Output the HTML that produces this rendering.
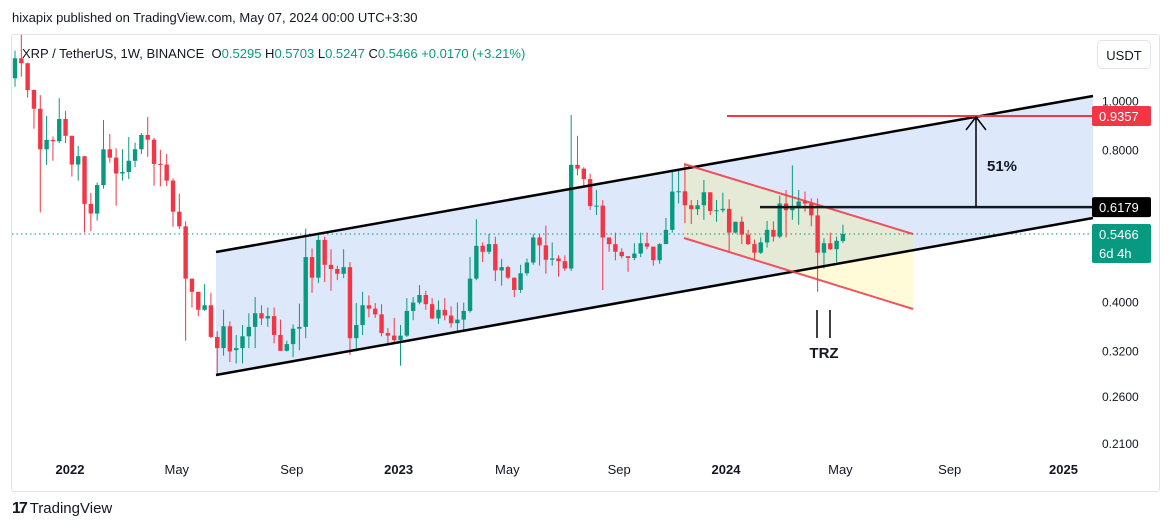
<!DOCTYPE html>
<html><head><meta charset="utf-8"><style>
body{margin:0;background:#fff;font-family:"Liberation Sans",sans-serif;width:1172px;height:531px;overflow:hidden;position:relative}
.t{position:absolute;white-space:nowrap}
</style></head><body>
<div class="t" style="left:12px;top:10px;font-size:13px;color:#131722">hixapix published on TradingView.com, May 07, 2024 00:00 UTC+3:30</div>
<div style="position:absolute;left:11px;top:34px;width:1147px;height:456px;border:1px solid #e0e3eb;border-radius:3px"></div>
<div class="t" style="left:22px;top:46px;font-size:13px;color:#131722">XRP / TetherUS, 1W, BINANCE&nbsp; <span style="color:#131722">O</span><span style="color:#089981">0.5295</span> <span>H</span><span style="color:#089981">0.5703</span> <span>L</span><span style="color:#089981">0.5247</span> <span>C</span><span style="color:#089981">0.5466 +0.0170 (+3.21%)</span></div>
<div class="t" style="left:1097px;top:40px;width:54px;height:29px;border:1px solid #e0e3eb;border-radius:5px;font-size:13px;color:#131722;text-align:center;line-height:29px;box-sizing:border-box">USDT</div>
<svg id="c" width="1172" height="531" style="position:absolute;left:0;top:0"></svg>
<div class="t" style="left:12px;top:500px;font-size:15px;color:#131722"><b style="font-size:16px;letter-spacing:-2px">17</b> TradingView</div>
<script>
const opens=[1.111,1.217,1.190,1.053,0.967,0.804,0.839,0.834,0.923,0.855,0.750,0.779,0.627,0.600,0.683,0.804,0.774,0.720,0.725,0.763,0.804,0.858,0.840,0.752,0.750,0.697,0.605,0.566,0.446,0.420,0.387,0.395,0.342,0.325,0.359,0.322,0.325,0.343,0.358,0.381,0.372,0.376,0.345,0.321,0.331,0.355,0.358,0.492,0.448,0.532,0.475,0.466,0.456,0.470,0.340,0.361,0.395,0.389,0.379,0.348,0.344,0.337,0.344,0.385,0.400,0.414,0.397,0.372,0.387,0.377,0.364,0.370,0.385,0.446,0.518,0.504,0.522,0.463,0.470,0.448,0.4235,0.457,0.480,0.538,0.519,0.486,0.489,0.483,0.467,0.749,0.736,0.702,0.621,0.622,0.538,0.522,0.504,0.494,0.490,0.500,0.524,0.516,0.485,0.522,0.557,0.663,0.664,0.623,0.612,0.623,0.661,0.607,0.609,0.613,0.550,0.578,0.545,0.522,0.502,0.526,0.557,0.540,0.628,0.609,0.619,0.634,0.628,0.595,0.502,0.524,0.510,0.5295];
const highs=[1.260,1.353,1.193,1.056,1.029,0.936,0.852,1.015,0.958,0.855,0.816,0.779,0.659,0.691,0.919,0.862,0.808,0.804,0.850,0.829,0.866,0.932,0.847,0.802,0.787,0.704,0.657,0.579,0.446,0.420,0.435,0.418,0.351,0.387,0.367,0.345,0.361,0.381,0.410,0.395,0.391,0.391,0.370,0.336,0.362,0.398,0.560,0.512,0.548,0.540,0.510,0.473,0.510,0.481,0.399,0.420,0.413,0.399,0.397,0.356,0.373,0.361,0.408,0.410,0.433,0.422,0.408,0.404,0.408,0.393,0.400,0.400,0.492,0.585,0.526,0.547,0.540,0.488,0.473,0.448,0.475,0.489,0.547,0.547,0.568,0.526,0.496,0.496,0.940,0.855,0.741,0.719,0.668,0.638,0.538,0.550,0.512,0.494,0.524,0.550,0.550,0.516,0.524,0.588,0.729,0.729,0.752,0.638,0.638,0.699,0.661,0.638,0.660,0.640,0.578,0.592,0.557,0.533,0.538,0.580,0.579,0.651,0.668,0.747,0.668,0.663,0.643,0.643,0.536,0.550,0.540,0.5703];
const lows=[1.069,1.119,1.017,0.883,0.603,0.749,0.763,0.827,0.827,0.710,0.697,0.550,0.554,0.581,0.672,0.757,0.622,0.697,0.702,0.741,0.787,0.777,0.681,0.679,0.680,0.565,0.559,0.336,0.391,0.376,0.385,0.340,0.288,0.314,0.305,0.303,0.303,0.325,0.325,0.361,0.358,0.332,0.321,0.320,0.312,0.322,0.340,0.418,0.437,0.439,0.422,0.443,0.447,0.315,0.320,0.345,0.374,0.373,0.343,0.333,0.333,0.300,0.342,0.369,0.397,0.387,0.371,0.363,0.369,0.357,0.348,0.353,0.382,0.443,0.481,0.499,0.441,0.432,0.445,0.410,0.418,0.452,0.475,0.473,0.456,0.473,0.450,0.462,0.462,0.714,0.675,0.610,0.596,0.4235,0.504,0.485,0.489,0.460,0.485,0.492,0.510,0.473,0.477,0.522,0.550,0.628,0.574,0.572,0.596,0.583,0.596,0.578,0.603,0.504,0.548,0.522,0.520,0.485,0.499,0.514,0.528,0.536,0.538,0.583,0.570,0.605,0.566,0.420,0.467,0.508,0.481,0.5247];
const closes=[1.217,1.190,1.053,0.967,0.804,0.839,0.834,0.923,0.855,0.750,0.779,0.627,0.600,0.683,0.804,0.774,0.720,0.725,0.763,0.804,0.858,0.840,0.752,0.750,0.697,0.605,0.566,0.446,0.420,0.387,0.395,0.342,0.325,0.359,0.320,0.325,0.343,0.358,0.381,0.372,0.376,0.345,0.321,0.331,0.355,0.358,0.492,0.448,0.532,0.475,0.466,0.456,0.470,0.340,0.361,0.395,0.389,0.379,0.348,0.344,0.337,0.344,0.385,0.400,0.414,0.397,0.372,0.387,0.377,0.364,0.370,0.385,0.446,0.518,0.504,0.522,0.463,0.470,0.448,0.4235,0.457,0.480,0.538,0.519,0.486,0.489,0.483,0.467,0.749,0.736,0.702,0.621,0.622,0.538,0.522,0.504,0.494,0.490,0.500,0.524,0.516,0.485,0.522,0.557,0.663,0.664,0.623,0.612,0.623,0.661,0.607,0.609,0.613,0.550,0.578,0.545,0.522,0.502,0.526,0.557,0.540,0.628,0.609,0.619,0.634,0.628,0.595,0.502,0.524,0.510,0.530,0.5466];
const priceTicks=[1.0,0.8,0.4,0.32,0.26,0.21];
const timeLabels=["2022","May","Sep","2023","May","Sep","2024","May","Sep","2025"];
const timeWeeks=[8.7,25.6,43.8,60.7,77.9,95.6,112.5,130.6,147.9,165.9];
const boldLabels=["2022","2023","2024","2025"];

const svg=document.getElementById('c');
const NS='http://www.w3.org/2000/svg';
const y=p=>101.4-219.5*Math.log(p);
const x=i=>15+i*6.32;
function mk(tag,attrs,parent){const e=document.createElementNS(NS,tag);for(const k in attrs)e.setAttribute(k,attrs[k]);(parent||svg).appendChild(e);return e;}

// ascending channel
const ch=mk('polygon',{points:'216,252 1093,96 1093,218 216,375',fill:'#dde9fa'});


// descending channel fill
const dc=mk('polygon',{points:'684,164 913,234 913,309 684,238',fill:'rgba(255,235,80,0.22)'});



// last price dotted line
const pl=mk('line',{x1:12,x2:1093,y1:y(closes[closes.length-1]),y2:y(closes[closes.length-1]),stroke:'#089981','stroke-dasharray':'1.5 3','stroke-width':1});



// candles
for(let i=0;i<closes.length;i++){
  const up=closes[i]>=opens[i];const col=up?'#089981':'#F23645';
  const g=mk('g',{});
  
  
  mk('line',{x1:x(i),x2:x(i),y1:y(highs[i]),y2:y(lows[i]),stroke:col,'stroke-width':1},g);
  const t=Math.min(y(opens[i]),y(closes[i])),h=Math.max(1,Math.abs(y(opens[i])-y(closes[i])));
  mk('rect',{x:x(i)-2.2,y:t,width:4.4,height:h,fill:col},g);
}

// channel lines
const l1=mk('line',{x1:216,y1:252,x2:1093,y2:96,stroke:'#000','stroke-width':2.5});


const l2=mk('line',{x1:216,y1:375,x2:1093,y2:218,stroke:'#000','stroke-width':2.5});


const r1=mk('line',{x1:684,y1:164,x2:913,y2:234,stroke:'#F23645','stroke-width':2,opacity:0.85});


const r2=mk('line',{x1:684,y1:238,x2:913,y2:309,stroke:'#F23645','stroke-width':2,opacity:0.85});


const tl=mk('line',{x1:727,y1:y(0.9357),x2:1093,y2:y(0.9357),stroke:'#F23645','stroke-width':2});


const bl=mk('line',{x1:760,y1:y(0.6179),x2:1093,y2:y(0.6179),stroke:'#131722','stroke-width':2.5});


const ar=mk('path',{d:`M976 ${y(0.6179)} V${y(0.9357)+2} M966 ${y(0.9357)+14} L976 ${y(0.9357)+1} L986 ${y(0.9357)+14}`,stroke:'#000','stroke-width':1.5,fill:'none'});


const pt=mk('text',{x:1002,y:171,'font-size':15,'font-weight':'bold','text-anchor':'middle',fill:'#131722','font-family':'Liberation Sans'});pt.textContent='51%';


const trz=mk('path',{d:'M817 310 V338 M830 310 V338',stroke:'#000','stroke-width':1.5});


const tt=mk('text',{x:824,y:358,'font-size':15,'font-weight':'bold','text-anchor':'middle',fill:'#131722','font-family':'Liberation Sans'});tt.textContent='TRZ';



// price axis
priceTicks.forEach(p=>{
  const t=mk('text',{x:1102,y:y(p)+4,'font-size':12,fill:'#131722','font-family':'Liberation Sans'});
  t.textContent=p.toFixed(4);
  
  
});
function box(price,txt,bg,name,h,extra){
  const yy=y(price);
  const g=mk('g',{});
  
  
  mk('rect',{x:1092,y:yy-10,width:59,height:h,fill:bg,rx:2},g);
  const t=mk('text',{x:1099,y:yy+5,'font-size':13,fill:'#fff','font-family':'Liberation Sans'},g);t.textContent=txt;
  if(extra){const t2=mk('text',{x:1099,y:yy+24,'font-size':13,fill:'#fff','font-family':'Liberation Sans'},g);t2.textContent=extra;}
}
box(0.9357,'0.9357','#F23645','target-price-label',20);
box(0.6179,'0.6179','#000','breakout-price-label',20);
box(closes[closes.length-1],'0.5466','#089981','last-price-label',39,'6d 4h');

// time axis
timeLabels.forEach((s,k)=>{
  const t=mk('text',{x:x(timeWeeks[k]),y:474,'font-size':13,'text-anchor':'middle',fill:'#131722','font-family':'Liberation Sans','font-weight':boldLabels.includes(s)?'bold':'normal'});
  t.textContent=s;
  
  
});
</script>
</body></html>
